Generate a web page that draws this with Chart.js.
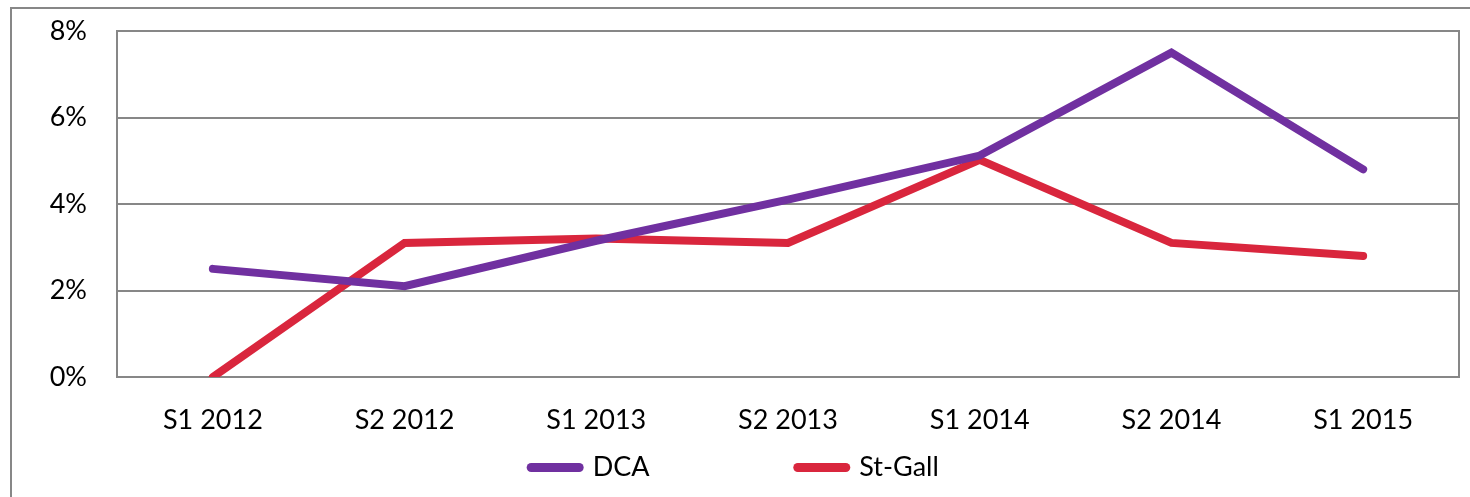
<!DOCTYPE html>
<html>
<head>
<meta charset="utf-8">
<script src="https://cdn.jsdelivr.net/npm/chart.js@4.4.1/dist/chart.umd.min.js"></script>
<style>
  html, body { margin: 0; padding: 0; background: #fff; }
  #wrap { width: 1470px; height: 497px; position: relative; }
</style>
</head>
<body>
<div id="wrap"><canvas id="chart" width="1470" height="497"></canvas></div>
<script>
// Data
const periods = ['S1 2012', 'S2 2012', 'S1 2013', 'S2 2013', 'S1 2014', 'S2 2014', 'S1 2015'];
const dcaValues = [2.5, 2.1, 3.15, 4.1, 5.12, 7.5, 4.8];
const stGallValues = [0, 3.1, 3.2, 3.1, 5.02, 3.1, 2.8];
const yTicks = [0, 2, 4, 6, 8];

const gridColor = '#878787';
const fontFamily = 'Lato, "Open Sans", sans-serif';

// Outer frame and plot border, like the spreadsheet chart
const framePlugin = {
    id: 'frame',
    beforeDraw(chart) {
        const ctx = chart.ctx;
        ctx.save();
        ctx.strokeStyle = gridColor;
        ctx.lineWidth = 2;
        ctx.beginPath();
        ctx.moveTo(11, 497);
        ctx.lineTo(11, 8);
        ctx.lineTo(1470, 8);
        ctx.stroke();
        ctx.restore();
    },
    beforeDatasetsDraw(chart) {
        const a = chart.chartArea;
        const ctx = chart.ctx;
        ctx.save();
        ctx.strokeStyle = gridColor;
        ctx.lineWidth = 2;
        ctx.strokeRect(a.left, a.top, a.right - a.left, a.bottom - a.top);
        ctx.restore();
    }
};

new Chart(document.getElementById('chart'), {
    type: 'line',
    data: {
        labels: periods,
        datasets: [
            {
                label: 'DCA',
                data: dcaValues,
                borderColor: '#7030A0',
                backgroundColor: '#7030A0',
                borderWidth: 8,
                borderCapStyle: 'round',
                borderJoinStyle: 'miter',
                pointRadius: 0,
                pointStyle: 'line',
                tension: 0
            },
            {
                label: 'St-Gall',
                data: stGallValues,
                borderColor: '#D9263D',
                backgroundColor: '#D9263D',
                borderWidth: 8,
                borderCapStyle: 'round',
                borderJoinStyle: 'miter',
                pointRadius: 0,
                pointStyle: 'line',
                tension: 0
            }
        ]
    },
    options: {
        responsive: false,
        animation: false,
        layout: { padding: { top: 31, right: 11, bottom: 6, left: 11 } },
        scales: {
            x: {
                offset: true,
                grid: { display: false, drawTicks: false },
                border: { display: false },
                ticks: {
                    color: '#000',
                    padding: 27,
                    maxRotation: 0,
                    font: { family: fontFamily, size: 27 }
                },
                afterFit(scale) { scale.height = 67; }
            },
            y: {
                min: 0,
                max: 8,
                afterBuildTicks(scale) { scale.ticks = yTicks.map(v => ({ value: v })); },
                grid: { color: gridColor, lineWidth: 2, drawTicks: false },
                border: { display: false },
                ticks: {
                    color: '#000',
                    padding: 30,
                    font: { family: fontFamily, size: 27 },
                    callback: v => v + '%'
                },
                afterFit(scale) {
                    scale.width = 106;
                    scale.paddingTop = 16;
                    scale.paddingBottom = 16;
                }
            }
        },
        plugins: {
            tooltip: { enabled: false },
            legend: {
                position: 'bottom',
                labels: {
                    color: '#000',
                    font: { family: fontFamily, size: 27 },
                    usePointStyle: true,
                    pointStyleWidth: 48,
                    boxHeight: 27,
                    padding: 10,
                    generateLabels(chart) {
                        const items = Chart.defaults.plugins.legend.labels.generateLabels(chart);
                        // wide gap between the two entries, as in the original legend
                        items[0].text = items[0].text + ' '.repeat(20);
                        items.forEach(it => { it.lineWidth = 9; it.lineCap = 'round'; });
                        return items;
                    }
                }
            }
        }
    },
    plugins: [framePlugin]
});
</script>
</body>
</html>
